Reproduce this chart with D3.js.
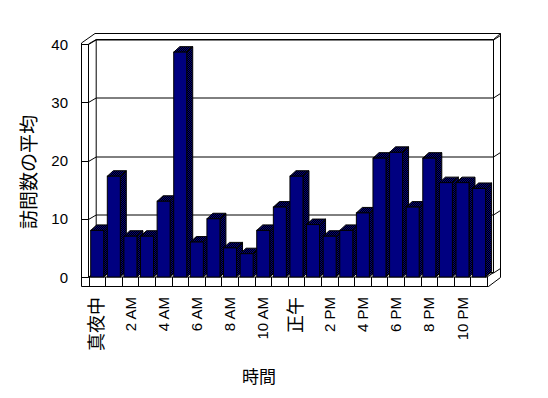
<!DOCTYPE html>
<html>
<head>
<meta charset="UTF-8">
<script src="https://d3js.org/d3.v7.min.js"></script>
<title>訪問数の平均</title>
<style>
  body { margin: 0; background: #fff; }
  text { font-family: "Liberation Sans", "Noto Sans CJK JP", sans-serif; fill: #000; }
</style>
</head>
<body>
<div id="chart"></div>
<script>
// 時間ごとの訪問数の平均
var categories = ["真夜中","1 AM","2 AM","3 AM","4 AM","5 AM","6 AM","7 AM","8 AM","9 AM","10 AM","11 AM",
                  "正午","1 PM","2 PM","3 PM","4 PM","5 PM","6 PM","7 PM","8 PM","9 PM","10 PM","11 PM"];
var values = [8, 17.3, 7, 7, 13, 38.6, 6, 10, 5, 4, 8, 12,
              17.3, 9, 7, 8, 11, 20.4, 21.4, 12, 20.4, 16.2, 16.2, 15.2];
var yTicks = [0, 10, 20, 30, 40];
var xTitle = "時間", yTitle = "訪問数の平均";

var W = 548, H = 398;
var ddx = 7.7, ddy = -4.5;   // 壁の奥行き
var bdx = 6, bdy = -5.5;     // 棒の奥行き

var svg = d3.select("#chart").append("svg").attr("width", W).attr("height", H);

var defs = svg.append("defs");
var pat = defs.append("pattern").attr("id", "dither").attr("width", 2).attr("height", 2)
  .attr("patternUnits", "userSpaceOnUse");
pat.append("rect").attr("width", 2).attr("height", 2).attr("fill", "#000");
pat.append("rect").attr("width", 1).attr("height", 1).attr("fill", "#000080");
pat.append("rect").attr("x", 1).attr("y", 1).attr("width", 1).attr("height", 1).attr("fill", "#000080");

var x = d3.scaleBand().domain(d3.range(categories.length)).range([88.5, 487]);
var y = d3.scaleLinear().domain([0, 40]).range([277, 44]);

var line = function(pts) { return "M" + pts.map(function(p) { return p.join(","); }).join("L"); };
var g = svg.append("g").attr("fill", "none").attr("stroke", "#000").attr("stroke-width", 1);

var x0 = x.range()[0], x1 = x.range()[1];
var yb = y(0), yt = y(40);

// 外枠
g.append("path").attr("d", line([[81.5, 43], [81.5, 286.5], [488.5, 286.5], [500.5, 277.5],
  [500.5, 33.5], [95, 33.5]]) + "Z");
// 左壁・床・奥の壁
g.append("path").attr("d", line([[x0, yt], [x0, yb]]));
g.append("path").attr("d", line([[x0, yt], [x0 + ddx, yt + ddy], [x1 + 6.5, yt + ddy], [500.5, 33.5]]));
g.append("path").attr("d", line([[x0 + ddx, yt + ddy], [x0 + ddx, yb + ddy], [x1 + 6.5, yb + ddy], [x1 + 6.5, yt + ddy]]));
g.append("path").attr("d", line([[x0, yb], [x0 + ddx, yb + ddy]]));
g.append("path").attr("d", line([[x1, yb], [x1 + 6.5, yb + ddy]]));

// 目盛線
yTicks.forEach(function(v) {
  var yy = Math.round(y(v)) + 0.5;
  g.append("path").attr("d", line([[81.5, yy], [x0, yy], [x0 + ddx, yy + ddy], [x1 + 6.5, yy + ddy],
    [500.5, yy + ddy - 4.5]]));
});

// 床の前面
g.append("path").attr("d", line([[x0, yb], [x1, yb]]));
d3.range(categories.length + 1).forEach(function(i) {
  var xx = Math.round(x0 + i * x.bandwidth()) + 0.5;
  g.append("path").attr("d", line([[xx, yb], [xx, 286.5]]));
});

// 棒
var bw = 13, off = 2.2;
var bars = svg.append("g").attr("stroke", "#000").attr("stroke-width", 1)
  .selectAll("g").data(values).enter().append("g");
bars.append("path").attr("fill", "url(#dither)").attr("d", function(d, i) {
  var a = x(i) + off, b = a + bw, t = y(d);
  return line([[b, t], [b + bdx, t + bdy], [b + bdx, yb + bdy], [b, yb]]) + "Z";
});
bars.append("path").attr("fill", "url(#dither)").attr("d", function(d, i) {
  var a = x(i) + off, b = a + bw, t = y(d);
  return line([[a, t], [a + bdx, t + bdy], [b + bdx, t + bdy], [b, t]]) + "Z";
});
bars.append("rect").attr("fill", "#000080")
  .attr("x", function(d, i) { return x(i) + off; })
  .attr("y", function(d) { return y(d); })
  .attr("width", bw)
  .attr("height", function(d) { return yb - y(d); });

// Y軸ラベル
svg.append("g").selectAll("text").data(yTicks).enter().append("text")
  .attr("x", 68).attr("y", function(d) { return y(d); })
  .attr("text-anchor", "end").attr("dominant-baseline", "central")
  .attr("font-size", 15).text(function(d) { return d; });

// X軸ラベル（2時間ごと）
svg.append("g").selectAll("text")
  .data(categories.filter(function(c, i) { return i % 2 === 0; }))
  .enter().append("text")
  .attr("transform", function(d, i) {
    return "translate(" + (x(i * 2) + x.bandwidth() / 2) + ",297) rotate(-90)";
  })
  .attr("text-anchor", "end").attr("dominant-baseline", "central")
  .attr("font-size", function(d) { return /[^\x00-\x7f]/.test(d) ? 18 : 15; })
  .text(function(d) { return d; });

svg.append("text").attr("x", 259).attr("y", 383).attr("text-anchor", "middle")
  .attr("font-size", 17).text(xTitle);
svg.append("text").attr("transform", "translate(29,172) rotate(-90)")
  .attr("text-anchor", "middle").attr("dominant-baseline", "central")
  .attr("font-size", 19).text(yTitle);
</script>
</body>
</html>
